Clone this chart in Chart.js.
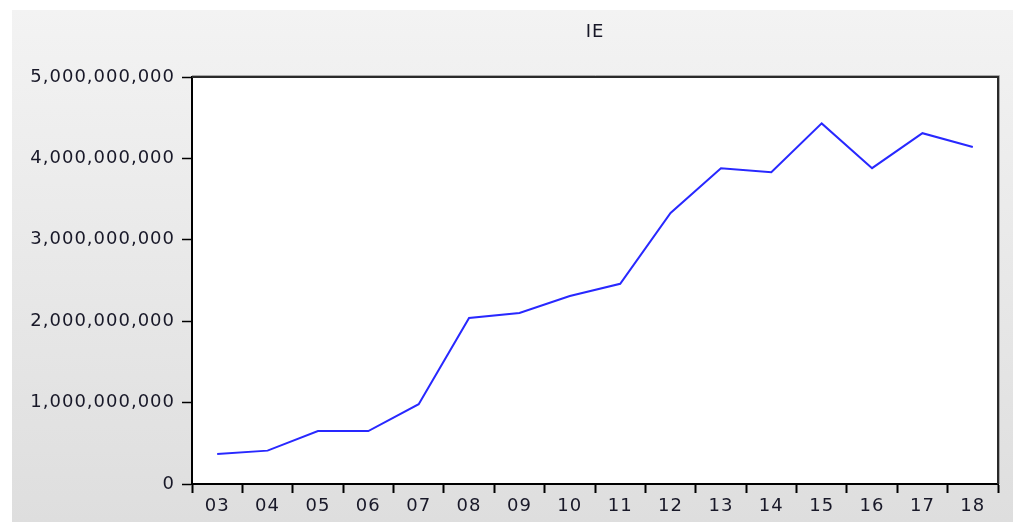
<!DOCTYPE html>
<html>
<head>
<meta charset="utf-8">
<script src="https://cdn.jsdelivr.net/npm/chart.js@4.4.1/dist/chart.umd.min.js"></script>
<style>
  html, body { margin: 0; padding: 0; background: #ffffff; }
  #wrap { width: 1013px; height: 522px; }
</style>
</head>
<body>
<div id="wrap"><canvas id="chart"></canvas></div>
<script>
// IE series, annual, 2003-2018
const years = ['03', '04', '05', '06', '07', '08', '09', '10', '11', '12', '13', '14', '15', '16', '17', '18'];
const ieValues = [
  370000000, 410000000, 650000000, 650000000, 980000000,
  2040000000, 2100000000, 2310000000, 2460000000, 3330000000,
  3880000000, 3830000000, 4430000000, 3880000000, 4310000000, 4140000000
];
const yTickValues = [0, 1000000000, 2000000000, 3000000000, 4000000000, 5000000000];

const textColor = '#181828';
const fontFamily = '"DejaVu Sans", Verdana, sans-serif';

// grey panel, white plot area, and a wider glyph spacing for all text
const panelPlugin = {
  id: 'panel',
  beforeDraw(chart) {
    const { ctx, chartArea: a, width, height } = chart;
    ctx.save();
    ctx.fillStyle = '#ffffff';
    ctx.fillRect(0, 0, width, height);
    const g = ctx.createLinearGradient(0, 10, 0, height);
    g.addColorStop(0, '#f3f3f3');
    g.addColorStop(1, '#dedede');
    ctx.fillStyle = g;
    ctx.fillRect(12, 10, width - 12, height - 10);
    ctx.fillStyle = '#ffffff';
    ctx.fillRect(a.left, a.top, a.right - a.left, a.bottom - a.top);
    ctx.restore();
    ctx.letterSpacing = '1px';
  },
  afterDraw(chart) {
    const { ctx, chartArea: a } = chart;
    ctx.save();
    // soft shadow outside the top and right edges
    ctx.strokeStyle = '#a8a8a8';
    ctx.lineWidth = 1;
    ctx.beginPath();
    ctx.moveTo(a.left, a.top - 1.5);
    ctx.lineTo(a.right + 1.5, a.top - 1.5);
    ctx.lineTo(a.right + 1.5, a.bottom);
    ctx.stroke();
    ctx.strokeStyle = '#2a2a2a';
    ctx.lineWidth = 2;
    ctx.beginPath();
    ctx.moveTo(a.left, a.top);
    ctx.lineTo(a.right, a.top);
    ctx.lineTo(a.right, a.bottom);
    ctx.stroke();
    ctx.restore();
  }
};

new Chart(document.getElementById('chart'), {
  type: 'line',
  data: {
    labels: years,
    datasets: [{
      label: 'IE',
      data: ieValues,
      borderColor: 'rgb(40, 40, 255)',
      borderWidth: 2,
      pointRadius: 0,
      tension: 0,
      fill: false
    }]
  },
  options: {
    responsive: true,
    maintainAspectRatio: false,
    animation: false,
    layout: { padding: { top: 0, left: 0, right: 15, bottom: 0 } },
    plugins: {
      legend: { display: false },
      tooltip: { enabled: false },
      title: {
        display: true,
        text: 'IE',
        fullSize: false,
        color: textColor,
        font: { family: fontFamily, size: 18, weight: 'normal', lineHeight: 1.2 },
        padding: { top: 22, bottom: 33.4 }
      }
    },
    scales: {
      x: {
        type: 'category',
        offset: true,
        grid: {
          offset: true,
          drawOnChartArea: false,
          drawTicks: true,
          tickLength: 9,
          tickWidth: 2,
          tickColor: '#000000'
        },
        border: { display: true, color: '#000000', width: 2 },
        ticks: {
          color: textColor,
          padding: 3,
          maxRotation: 0,
          autoSkip: false,
          font: { family: fontFamily, size: 18 }
        },
        afterFit(scale) { scale.height = 38; }
      },
      y: {
        min: 0,
        max: 5000000000,
        afterBuildTicks(scale) {
          scale.ticks = yTickValues.map(v => ({ value: v }));
        },
        grid: {
          drawOnChartArea: false,
          drawTicks: true,
          tickLength: 10,
          tickWidth: 1.5,
          tickColor: '#000000'
        },
        border: { display: true, color: '#000000', width: 2 },
        ticks: {
          color: textColor,
          padding: 7,
          font: { family: fontFamily, size: 18 },
          callback: v => Number(v).toLocaleString('en-US')
        },
        afterFit(scale) { scale.width = 192; }
      }
    }
  },
  plugins: [panelPlugin]
});
</script>
</body>
</html>
